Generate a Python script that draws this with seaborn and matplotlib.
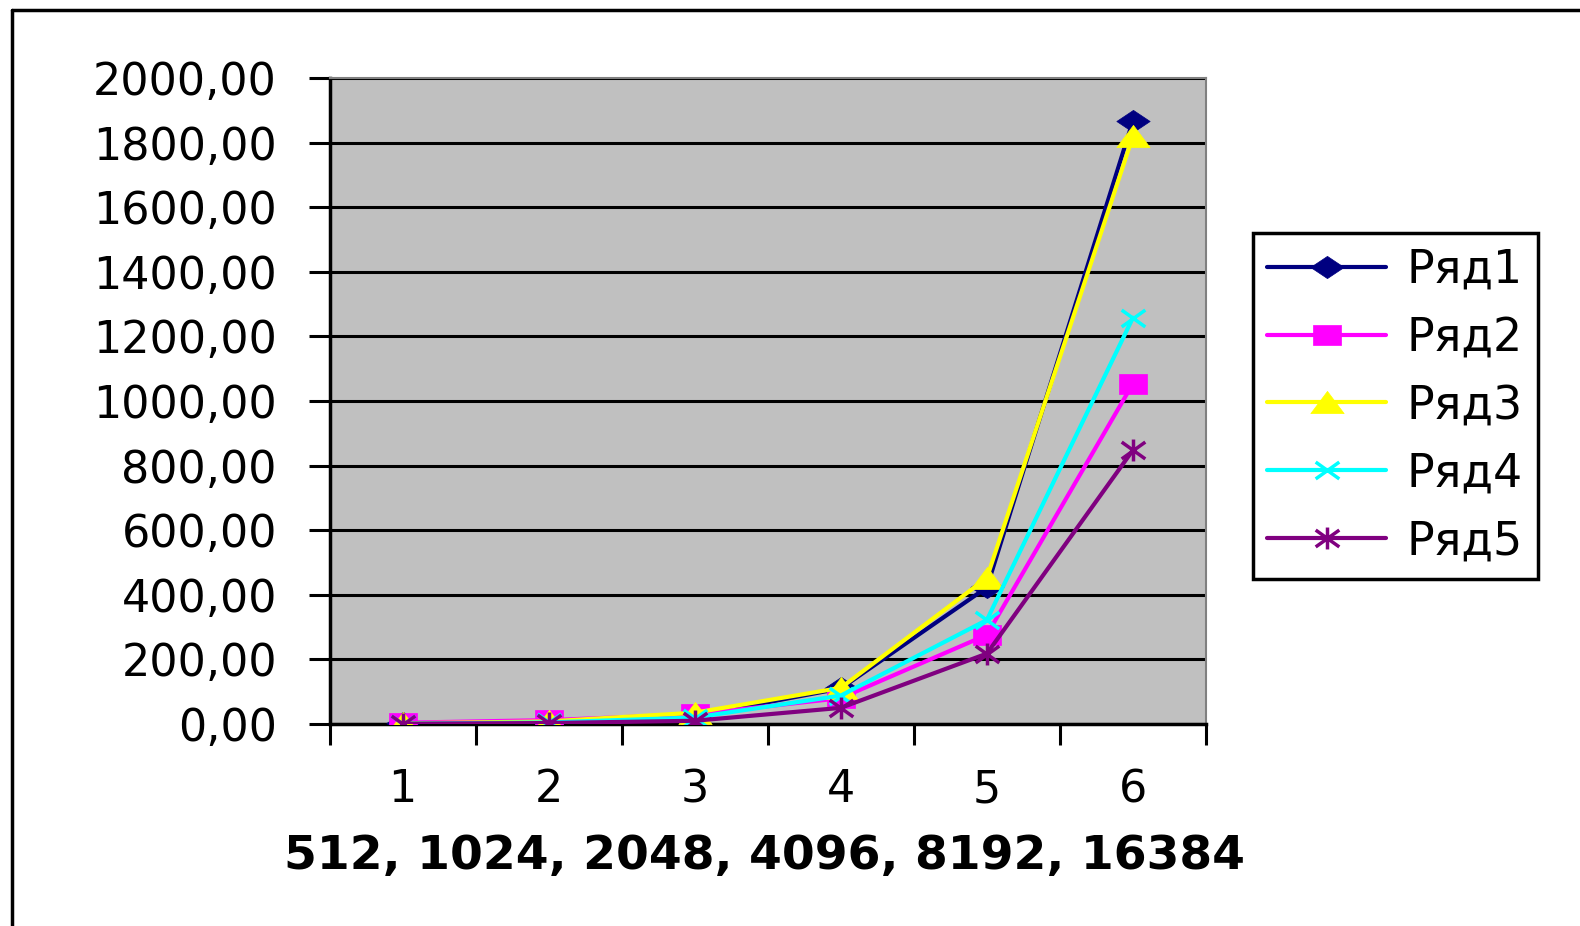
import numpy as np
import pandas as pd
import matplotlib
matplotlib.use("Agg")
import matplotlib.pyplot as plt
from matplotlib.path import Path
from matplotlib.lines import Line2D
import seaborn as sns

# Categories on the x axis and the five series
categories = [1, 2, 3, 4, 5, 6]
series_names = ["Ряд1", "Ряд2", "Ряд3", "Ряд4", "Ряд5"]
row1 = [2, 6, 25, 110, 423, 1868]
row2 = [4, 12, 30, 80, 276, 1054]
row3 = [2, 8, 35, 112, 452, 1820]
row4 = [1, 5, 20, 88, 322, 1258]
row5 = [1, 3, 10, 50, 218, 848]
y_ticks = [0, 200, 400, 600, 800, 1000, 1200, 1400, 1600, 1800, 2000]
x_title = "512, 1024, 2048, 4096, 8192, 16384"

df = pd.DataFrame({
    "x": categories * 5,
    "y": row1 + row2 + row3 + row4 + row5,
    "series": sum([[n] * len(categories) for n in series_names], []),
})

colors = {"Ряд1": "#000080", "Ряд2": "#FF00FF", "Ряд3": "#FFFF00",
          "Ряд4": "#00FFFF", "Ряд5": "#800080"}

# Wide, Excel-style marker shapes
diamond = Path([(-1.5, 0), (0, 1), (1.5, 0), (0, -1), (-1.5, 0)],
               [Path.MOVETO, Path.LINETO, Path.LINETO, Path.LINETO, Path.CLOSEPOLY])
square = Path([(-1.4, -1), (1.4, -1), (1.4, 1), (-1.4, 1), (-1.4, -1)],
              [Path.MOVETO, Path.LINETO, Path.LINETO, Path.LINETO, Path.CLOSEPOLY])
triangle = Path([(-1.5, -1), (1.5, -1), (0, 1), (-1.5, -1)],
                [Path.MOVETO, Path.LINETO, Path.LINETO, Path.CLOSEPOLY])
cross = Path([(-1.4, -1), (1.4, 1), (-1.4, 1), (1.4, -1)],
             [Path.MOVETO, Path.LINETO, Path.MOVETO, Path.LINETO])
aster = Path([(-1.4, -1), (1.4, 1), (-1.4, 1), (1.4, -1), (0, -1.3), (0, 1.3)],
             [Path.MOVETO, Path.LINETO, Path.MOVETO, Path.LINETO, Path.MOVETO, Path.LINETO])
markers = {"Ряд1": diamond, "Ряд2": square, "Ряд3": triangle,
           "Ряд4": cross, "Ряд5": aster}
msizes = {"Ряд1": 24, "Ряд2": 20, "Ряд3": 24, "Ряд4": 17, "Ряд5": 17}

sns.set_theme(style="white")
plt.rcParams["font.family"] = ["DejaVu Sans"]
plt.rcParams["text.color"] = "black"
plt.rcParams["xtick.color"] = "black"
plt.rcParams["ytick.color"] = "black"
plt.rcParams["xtick.labelcolor"] = "black"
plt.rcParams["ytick.labelcolor"] = "black"

fig = plt.figure(figsize=(15.8, 9.26), dpi=100)
ax = fig.add_axes([329.5 / 1580, 1 - 724 / 926, (1206 - 329.5) / 1580, (724 - 78) / 926])
ax.set_facecolor("#C0C0C0")

sns.lineplot(data=df, x="x", y="y", hue="series", style="series",
             palette=colors, markers=markers, dashes=False, linewidth=3,
             ax=ax, legend=False, zorder=3)

for line, name in zip(ax.lines, series_names):
    line.set_markeredgecolor(colors[name])
    line.set_markerfacecolor(colors[name])
    line.set_markersize(msizes[name])
    line.set_markeredgewidth(2.5 if name in ("Ряд4", "Ряд5") else 0.5)

ax.set_xlim(0.5, 6.5)
ax.set_ylim(0, 2000)

# y axis: black grid, labels with comma decimal
ax.set_yticks(y_ticks)
ax.set_yticklabels([f"{v},00" for v in y_ticks])
ax.yaxis.grid(True, color="black", linewidth=2.2, zorder=1)
ax.set_axisbelow(True)
ax.tick_params(axis="y", which="major", direction="out", length=14.8, width=2.2,
               color="black", labelcolor="black", pad=23, labelsize=32, left=True)

# x axis: tick marks between categories, labels at category centres
ax.set_xticks(np.arange(0.5, 7.0, 1.0))
ax.set_xticklabels([])
ax.set_xticks(categories, minor=True)
ax.set_xticklabels([str(c) for c in categories], minor=True)
ax.tick_params(axis="x", which="major", direction="out", length=15, width=2.2,
               color="black", bottom=True)
ax.tick_params(axis="x", which="minor", length=0, pad=32, labelsize=32,
               labelcolor="black", bottom=True)
ax.set_xlabel("")
ax.set_ylabel("")

for side in ("top", "right"):
    ax.spines[side].set_color("#808080")
    ax.spines[side].set_linewidth(1.5)
for side in ("left", "bottom"):
    ax.spines[side].set_color("black")
    ax.spines[side].set_linewidth(2.5)

fig.text(764 / 1580, 1 - 856 / 926, x_title, ha="center", va="center",
         fontsize=34, fontweight="bold", color="black")

# Legend box to the right of the plot area
handles = [Line2D([], [], color=colors[n], linewidth=3, marker=markers[n],
                  markersize=msizes[n], markerfacecolor=colors[n],
                  markeredgecolor=colors[n],
                  markeredgewidth=2.5 if n in ("Ряд4", "Ряд5") else 0.5)
           for n in series_names]
leg = fig.legend(handles, series_names, loc="upper left",
                 bbox_to_anchor=(1252.5 / 1580, 1 - 233 / 926),
                 bbox_transform=fig.transFigure, borderaxespad=0,
                 fontsize=33, handlelength=2.6, handletextpad=0.45,
                 labelspacing=0.5, borderpad=0.32, fancybox=False,
                 framealpha=1, facecolor="white", edgecolor="black")
leg.get_frame().set_linewidth(2.5)
for t in leg.get_texts():
    t.set_color("black")

# Outer chart frame (runs off the right and bottom edges)
fig.add_artist(Line2D([12 / 1580, 12 / 1580], [-0.1, 1 - 10 / 926],
                      transform=fig.transFigure, color="black", linewidth=2.5))
fig.add_artist(Line2D([12 / 1580, 1.1], [1 - 10 / 926, 1 - 10 / 926],
                      transform=fig.transFigure, color="black", linewidth=2.5))

fig.savefig("out.png", dpi=100, facecolor="white")
